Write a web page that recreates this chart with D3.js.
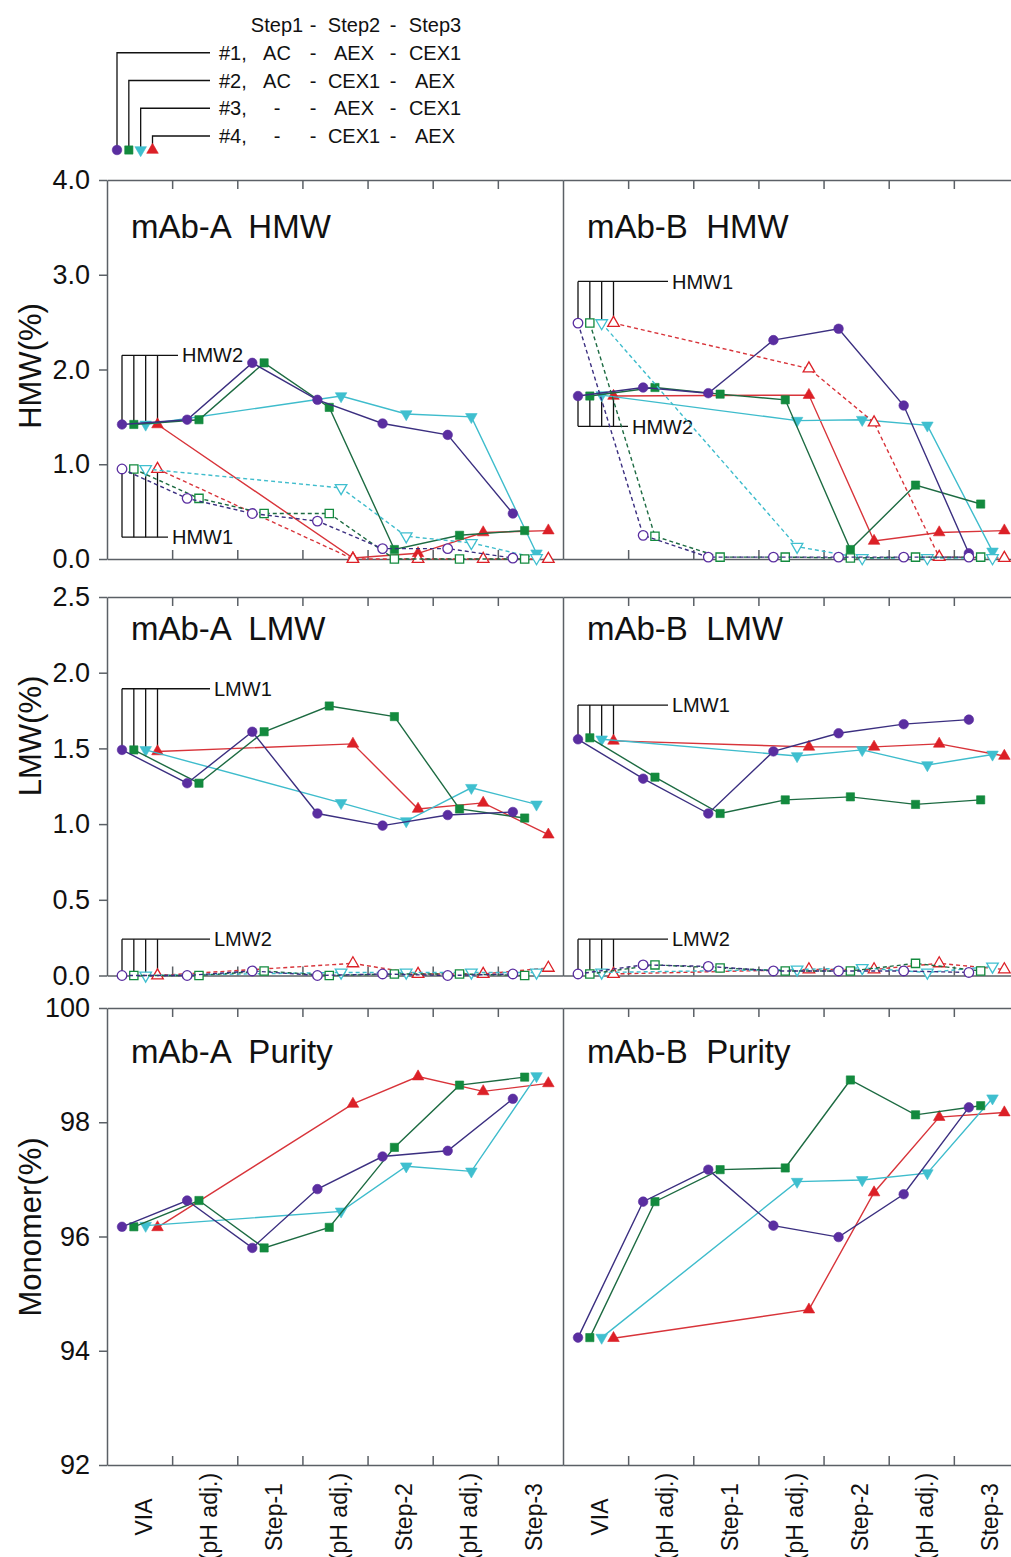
<!DOCTYPE html>
<html>
<head>
<meta charset="utf-8">
<script src="https://cdn.jsdelivr.net/npm/d3@7"></script>
<style>
  body { margin: 0; background: #fff; }
  text { font-family: "Liberation Sans", Arial, sans-serif; fill: #111; }
</style>
</head>
<body>
<div id="chart"></div>
<script>
// >-----------------< Data >-------------------<
const stages = ["VIA", "(pH adj.)", "Step-1", "(pH adj.)", "Step-2", "(pH adj.)", "Step-3"];
const processIds = ["#1,", "#2,", "#3,", "#4,"];
const stepHeader = ["Step1", "Step2", "Step3"];
const processSteps = [
  ["AC", "AEX", "CEX1"],
  ["AC", "CEX1", "AEX"],
  ["-", "AEX", "CEX1"],
  ["-", "CEX1", "AEX"]
];

const hmwTicks = [0, 1, 2, 3, 4];
const lmwTicks = [0, 0.5, 1, 1.5, 2, 2.5];
const purityTicks = [92, 94, 96, 98, 100];

// one row per process (#1..#4), one value per stage; null = stage not run
const mabA_HMW2 = [
  [1.42, 1.47, 2.07, 1.68, 1.43, 1.31, 0.48],
  [1.42, 1.47, 2.07, 1.60, 0.10, 0.25, 0.30],
  [1.42, null, null, 1.72, 1.53, 1.50, 0.06],
  [1.42, null, null, 0.01, 0.06, 0.28, 0.30]
];
const mabA_HMW1 = [
  [0.95, 0.64, 0.48, 0.40, 0.11, 0.11, 0.01],
  [0.95, 0.64, 0.48, 0.48, 0.00, 0.00, 0.00],
  [0.95, null, null, 0.75, 0.24, 0.17, 0.01],
  [0.95, null, null, 0.00, 0.00, 0.00, 0.00]
];
const mabB_HMW2 = [
  [1.72, 1.81, 1.75, 2.31, 2.43, 1.62, 0.06],
  [1.72, 1.81, 1.74, 1.68, 0.10, 0.78, 0.58],
  [1.73, null, null, 1.46, 1.47, 1.41, 0.08],
  [1.72, null, null, 1.73, 0.19, 0.28, 0.30]
];
const mabB_HMW1 = [
  [2.49, 0.25, 0.02, 0.02, 0.02, 0.02, 0.02],
  [2.49, 0.24, 0.02, 0.02, 0.01, 0.02, 0.02],
  [2.49, null, null, 0.13, 0.01, 0.01, 0.01],
  [2.49, null, null, 2.01, 1.44, 0.02, 0.01]
];
const mabA_LMW1 = [
  [1.49, 1.27, 1.61, 1.07, 0.99, 1.06, 1.08],
  [1.49, 1.27, 1.61, 1.78, 1.71, 1.10, 1.04],
  [1.49, null, null, 1.14, 1.02, 1.24, 1.13],
  [1.48, null, null, 1.53, 1.10, 1.14, 0.93]
];
const mabA_LMW2 = [
  [0.00, 0.00, 0.03, 0.00, 0.01, 0.00, 0.01],
  [0.00, 0.00, 0.03, 0.00, 0.01, 0.01, 0.00],
  [0.00, null, null, 0.02, 0.02, 0.02, 0.02],
  [0.00, null, null, 0.08, 0.01, 0.01, 0.05]
];
const mabB_LMW1 = [
  [1.56, 1.30, 1.07, 1.48, 1.60, 1.66, 1.69],
  [1.57, 1.31, 1.07, 1.16, 1.18, 1.13, 1.16],
  [1.56, null, null, 1.45, 1.49, 1.39, 1.46],
  [1.55, null, null, 1.51, 1.51, 1.53, 1.45]
];
const mabB_LMW2 = [
  [0.01, 0.07, 0.06, 0.03, 0.03, 0.03, 0.02],
  [0.01, 0.07, 0.05, 0.03, 0.03, 0.08, 0.03],
  [0.02, null, null, 0.04, 0.05, 0.02, 0.06],
  [0.01, null, null, 0.04, 0.04, 0.08, 0.04]
];
const mabA_Purity = [
  [96.17, 96.63, 95.80, 96.83, 97.40, 97.50, 98.41],
  [96.17, 96.63, 95.80, 96.16, 97.56, 98.65, 98.79],
  [96.19, null, null, 96.44, 97.23, 97.14, 98.81],
  [96.16, null, null, 98.32, 98.80, 98.54, 98.68]
];
const mabB_Purity = [
  [94.23, 96.61, 97.17, 96.19, 95.99, 96.74, 98.26],
  [94.23, 96.61, 97.17, 97.20, 98.74, 98.13, 98.29],
  [94.23, null, null, 96.96, 96.99, 97.11, 98.42],
  [94.22, null, null, 94.72, 96.77, 98.09, 98.17]
];

// >-----------------< Config >-------------------<
const W = 1011, H = 1557;
const bandW = 65.14;
const colX = [107, 563];
const axisColor = "#5b6066";
const markerColors = ["#5a2ea0", "#138a3e", "#3fbfcf", "#dc2027"];
const lineColors = ["#3b2f80", "#1d6b42", "#3ebccc", "#d8343a"];
const shapes = [d3.symbolCircle, d3.symbolSquare, d3.symbolTriangle, d3.symbolTriangle];
const shapeSize = [72, 68, 58, 58];
const shapeRot = [0, 0, 180, 0];

const rows = [
  { top: 180, bottom: 559, domain: [0, 4], ticks: hmwTicks, fmt: d3.format(".1f"), title: "HMW(%)", titleY: 366, titleOff: 58 },
  { top: 597, bottom: 975.5, domain: [0, 2.5], ticks: lmwTicks, fmt: d3.format(".1f"), title: "LMW(%)", titleY: 736, titleOff: 43 },
  { top: 1008, bottom: 1465, domain: [92, 100], ticks: purityTicks, fmt: d3.format("d"), title: "Monomer(%)", titleY: 1227, titleOff: 55 }
];

const panels = [
  { row: 0, col: 0, title: "mAb-A  HMW", sets: [
    { vals: mabA_HMW2, open: false, tag: "HMW2", at: 2.15, len: 71 },
    { vals: mabA_HMW1, open: true, tag: "HMW1", at: 0.23, len: 61 }] },
  { row: 0, col: 1, title: "mAb-B  HMW", sets: [
    { vals: mabB_HMW2, open: false, tag: "HMW2", at: 1.40, len: 65 },
    { vals: mabB_HMW1, open: true, tag: "HMW1", at: 2.93, len: 105 }] },
  { row: 1, col: 0, title: "mAb-A  LMW", sets: [
    { vals: mabA_LMW1, open: false, tag: "LMW1", at: 1.894, len: 103 },
    { vals: mabA_LMW2, open: true, tag: "LMW2", at: 0.24, len: 103 }] },
  { row: 1, col: 1, title: "mAb-B  LMW", sets: [
    { vals: mabB_LMW1, open: false, tag: "LMW1", at: 1.786, len: 105 },
    { vals: mabB_LMW2, open: true, tag: "LMW2", at: 0.24, len: 105 }] },
  { row: 2, col: 0, title: "mAb-A  Purity", sets: [{ vals: mabA_Purity, open: false }] },
  { row: 2, col: 1, title: "mAb-B  Purity", sets: [{ vals: mabB_Purity, open: false }] }
];

// >-----------------< Draw >-------------------<
const svg = d3.select("#chart").append("svg")
  .attr("width", W)
  .attr("height", H);

const seriesOff = d3.scalePoint().domain([0, 1, 2, 3]).range([15, 50.5]);

function styleAxis(sel) {
  sel.selectAll("path, line").attr("stroke", axisColor).attr("stroke-width", 1.5);
  sel.selectAll("text").attr("font-size", 27).attr("fill", "#111")
    .style("font-family", '"Liberation Sans", Arial, sans-serif');
}

function drawMarker(g, s, x, y, open) {
  g.append("path")
    .attr("d", d3.symbol().type(shapes[s]).size(shapeSize[s]))
    .attr("transform", `translate(${x},${y}) rotate(${shapeRot[s]})`)
    .attr("fill", open ? "#fff" : markerColors[s])
    .attr("stroke", markerColors[s])
    .attr("stroke-width", open ? 1.3 : 0.6);
}

panels.forEach(p => {
  const row = rows[p.row];
  const x0 = colX[p.col];
  const xBand = d3.scaleBand().domain(d3.range(7)).range([x0, x0 + 7 * bandW]);
  const xLin = d3.scaleLinear().domain([0, 7]).range([x0, x0 + 7 * bandW]);
  const y = d3.scaleLinear().domain(row.domain).range([row.bottom, row.top]);
  const g = svg.append("g");

  // Axis
  const left = g.append("g").attr("transform", `translate(${x0},0)`);
  if (p.col === 0) {
    left.call(d3.axisLeft(y).tickValues(row.ticks).tickFormat(row.fmt).tickSize(8).tickPadding(9).tickSizeOuter(0));
  } else {
    left.call(d3.axisLeft(y).tickValues([]).tickSizeOuter(0));
  }
  styleAxis(left);

  const top = g.append("g").attr("transform", `translate(0,${row.top})`)
    .call(d3.axisBottom(xLin).tickValues(d3.range(1, 7)).tickFormat("").tickSize(9).tickSizeOuter(0));
  styleAxis(top);
  const bottom = g.append("g").attr("transform", `translate(0,${row.bottom})`)
    .call(d3.axisTop(xLin).tickValues(d3.range(1, 7)).tickFormat("").tickSize(9).tickSizeOuter(0));
  styleAxis(bottom);

  // Title
  g.append("text")
    .attr("x", x0 + 24)
    .attr("y", row.top + row.titleOff)
    .attr("font-size", 33)
    .style("white-space", "pre")
    .text(p.title);

  // Series
  p.sets.forEach(set => {
    const xs = (i, s) => xBand(i) + seriesOff(s);

    // comb annotation
    if (set.tag) {
      const cy = y(set.at);
      const bx = xBand(0);
      const ann = g.append("g").attr("stroke", "#111").attr("stroke-width", 1.3).attr("fill", "none");
      ann.append("line").attr("x1", xs(0, 0)).attr("x2", bx + set.len).attr("y1", cy).attr("y2", cy);
      set.vals.forEach((vals, s) => {
        ann.append("line").attr("x1", xs(0, s)).attr("x2", xs(0, s)).attr("y1", cy).attr("y2", y(vals[0]));
      });
      g.append("text")
        .attr("x", bx + set.len + 4)
        .attr("y", cy)
        .attr("dy", "0.36em")
        .attr("font-size", 20)
        .text(set.tag);
    }

    [3, 2, 1, 0].forEach(s => {
      const pts = set.vals[s].map((v, i) => ({ i, v })).filter(d => d.v !== null);
      const line = d3.line().x(d => xs(d.i, s)).y(d => y(d.v));
      g.append("path")
        .datum(pts)
        .attr("d", line)
        .attr("fill", "none")
        .attr("stroke", lineColors[s])
        .attr("stroke-width", 1.4)
        .attr("stroke-dasharray", set.open ? "4,3" : null);
      pts.forEach(d => drawMarker(g, s, xs(d.i, s), y(d.v), set.open));
    });
  });

  // Stage labels under the bottom row (the long ones run off the page, as in the source)
  if (p.row === 2) {
    stages.forEach((label, i) => {
      const cx = xBand(i) + bandW / 2 + 4;
      g.append("text")
        .attr("transform", `translate(${cx},1517) rotate(-90)`)
        .attr("text-anchor", "middle")
        .attr("dy", "0.35em")
        .attr("font-size", 23)
        .text(label);
    });
  }
});

// Y titles
rows.forEach(row => {
  svg.append("text")
    .attr("transform", `translate(30,${row.titleY}) rotate(-90)`)
    .attr("text-anchor", "middle")
    .attr("dy", "0.35em")
    .attr("font-size", 31)
    .text(row.title);
});

// >-----------------< Legend >-------------------<
const legend = svg.append("g");
const legMarkerY = 150;
const legLineEnd = 210;
const colCenters = [277, 354, 435];
const dashCenters = [313, 393];
const rowBase = d3.scalePoint().domain(d3.range(5)).range([32, 143]);

stepHeader.forEach((h, j) => {
  legend.append("text").attr("x", colCenters[j]).attr("y", rowBase(0))
    .attr("text-anchor", "middle").attr("font-size", 20).text(h);
});
dashCenters.forEach(cx => {
  legend.append("text").attr("x", cx).attr("y", rowBase(0))
    .attr("text-anchor", "middle").attr("font-size", 20).text("-");
});

processIds.forEach((id, s) => {
  const by = rowBase(s + 1);
  const mx = colX[0] + seriesOff(s) - 5;
  const ly = by - 7;
  legend.append("path")
    .attr("d", `M${mx},${legMarkerY}V${ly}H${legLineEnd}`)
    .attr("fill", "none")
    .attr("stroke", "#111")
    .attr("stroke-width", 1.3);
  drawMarker(legend, s, mx, legMarkerY, false);

  legend.append("text").attr("x", 219).attr("y", by).attr("font-size", 20).text(id);
  processSteps[s].forEach((st, j) => {
    legend.append("text").attr("x", colCenters[j]).attr("y", by)
      .attr("text-anchor", "middle").attr("font-size", 20).text(st);
  });
  dashCenters.forEach(cx => {
    legend.append("text").attr("x", cx).attr("y", by)
      .attr("text-anchor", "middle").attr("font-size", 20).text("-");
  });
});
</script>
</body>
</html>
